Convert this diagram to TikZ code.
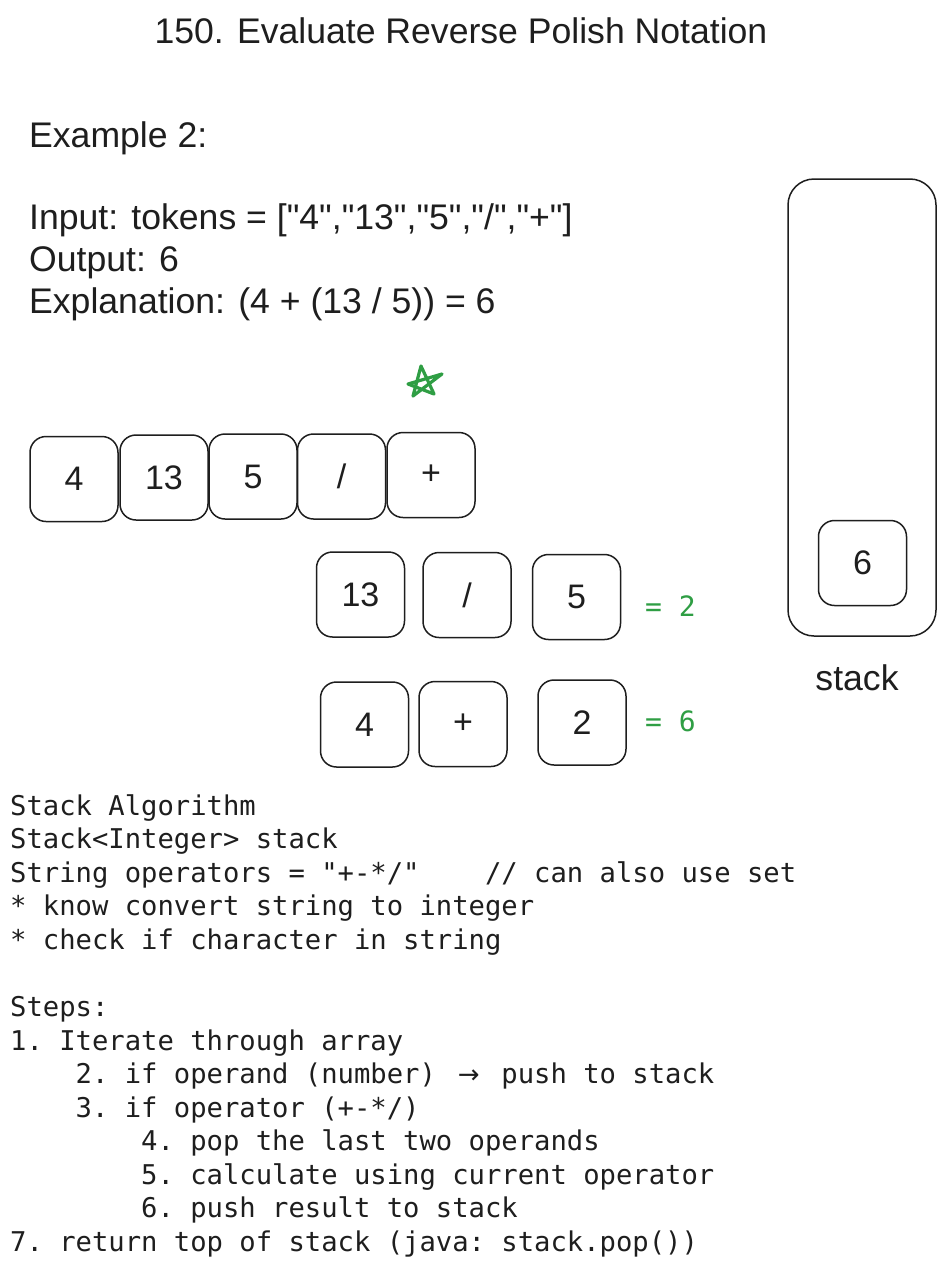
\documentclass[tikz,border=0pt]{standalone}
\usepackage{fontspec}
\setmainfont{Liberation Sans}[Ligatures=TeXOff]
\setmonofont{DejaVu Sans Mono}
\newfontfamily\arrowfont{DejaVu Sans}
\definecolor{exgreen}{HTML}{2F9E44}
\definecolor{ink}{HTML}{1E1E1E}
\begin{document}
\begin{tikzpicture}[x=1pt,y=-1pt,
 tok/.style={draw=ink, line width=1.5pt, rounded corners=16pt, minimum width=88pt, minimum height=85pt, inner sep=0pt, font=\fontsize{34}{40}\selectfont, text=ink},
 lbl/.style={anchor=base west, inner sep=0pt, font=\fontsize{35.6}{40}\selectfont, text=ink},
 code/.style={anchor=base west, inner sep=0pt, font=\ttfamily\fontsize{27.2}{33}\selectfont, text=ink},
 res/.style={anchor=base west, inner sep=0pt, font=\ttfamily\fontsize{28}{30}\selectfont, text=exgreen}]
\useasboundingbox[fill=white] (0,0) rectangle (945,1266);
% title and example text
\node[lbl, anchor=base] (title) at (461,43) {150. Evaluate Reverse Polish Notation};
\node[lbl] (ex) at (29,147) {Example 2:};
\node[lbl] (inp) at (29,229) {Input: tokens = ["4","13","5","/","+"]};
\node[lbl] (outp) at (29,271) {Output: 6};
\node[lbl] (expl) at (29,313) {Explanation: (4 + (13 / 5)) = 6};
% star
\draw[exgreen, line width=3.2pt, line join=round, line cap=round] (421,366) -- (413,396) -- (442,374) -- (408,384) -- (434,394) -- cycle;
% tokens row
\node[tok] (a1) at (74,479) {4};
\node[tok] (a2) at (164,477.5) {13};
\node[tok] (a3) at (253,476.5) {5};
\node[tok] (a4) at (341.5,476.5) {/};
\node[tok] (a5) at (431,475) {+};
% first evaluation
\node[tok] (b1) at (360.5,594.5) {13};
\node[tok] (b2) at (467,595) {/};
\node[tok] (b3) at (576.5,597) {5};
\node[res] (r1) at (645,616) {= 2};
% second evaluation
\node[tok] (c1) at (364.5,724.5) {4};
\node[tok] (c2) at (463,724) {+};
\node[tok] (c3) at (582,722.5) {2};
\node[res] (r2) at (645,731) {= 6};
% stack
\node[tok, minimum width=148pt, minimum height=457pt, rounded corners=26pt] (stk) at (862,407.5) {};
\node[tok] (s6) at (862.5,563) {6};
\node[lbl, anchor=base] (stklbl) at (857,690) {stack};
% code
\node[code] (l1) at (10,815) {Stack Algorithm};
\node[code] (l2) at (10,848.6) {Stack<Integer> stack};
\node[code] (l3) at (10,882.1) {String operators = "+-*/"\ \ \ \ // can also use set};
\node[code] (l4) at (10,915.7) {* know convert string to integer};
\node[code] (l5) at (10,949.3) {* check if character in string};
\node[code] (l7) at (10,1016.4) {Steps:};
\node[code] (l8) at (10,1050) {1. Iterate through array};
\node[code] (l9) at (10,1083.6) {\ \ \ \ 2. if operand (number) \makebox[32.75pt]{\arrowfont\fontsize{26}{26}\selectfont →} push to stack};
\node[code] (l10) at (10,1117.1) {\ \ \ \ 3. if operator (+-*/)};
\node[code] (l11) at (10,1150.7) {\ \ \ \ \ \ \ \ 4. pop the last two operands};
\node[code] (l12) at (10,1184.3) {\ \ \ \ \ \ \ \ 5. calculate using current operator};
\node[code] (l13) at (10,1217.8) {\ \ \ \ \ \ \ \ 6. push result to stack};
\node[code] (l14) at (10,1251.4) {7. return top of stack (java: stack.pop())};
\end{tikzpicture}
\end{document}
